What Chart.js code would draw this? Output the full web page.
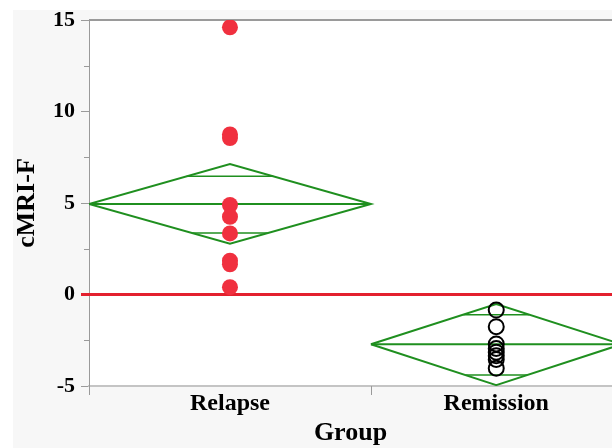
<!DOCTYPE html>
<html>
<head>
<meta charset="utf-8">
<script src="https://cdn.jsdelivr.net/npm/chart.js@4.4.0/dist/chart.umd.min.js"></script>
<style>
  html, body { margin: 0; padding: 0; background: #fff; }
</style>
</head>
<body>
<canvas id="chart" width="612" height="448"></canvas>
<script>
// data
var groups = ['Relapse', 'Remission'];
var groupSizes = [9, 8];
var relapseValues = [14.6, 8.75, 8.55, 4.89, 4.25, 3.34, 1.85, 1.65, 0.4];
var remissionValues = [-0.85, -1.76, -2.7, -2.95, -3.15, -3.35, -3.55, -4.03];
var groupMeans = [4.95, -2.72];
var ciUpper = [7.13, -0.52];
var ciLower = [2.78, -4.95];
var overlapUpper = [6.46, -1.1];
var overlapLower = [3.36, -4.4];
var yTicks = [-5, 0, 5, 10, 15];
var yMinorTicks = [-2.5, 2.5, 7.5, 12.5];

var green = '#1f8f1f';
var serif = "'Liberation Serif', 'Times New Roman', serif";

// group sections on x, width in proportion to group size
var starts = [], ends = [], centers = [];
var pos = 0;
for (var i = 0; i < groups.length; i++) {
  starts.push(pos);
  pos += groupSizes[i] / groupSizes[0];
  ends.push(pos);
  centers.push((starts[i] + ends[i]) / 2);
}

function pts(vals, x) {
  return vals.map(function (v) { return {x: x, y: v}; });
}

var datasets = [
  {
    label: 'Relapse', data: pts(relapseValues, centers[0]),
    backgroundColor: '#f0303f', borderWidth: 0, pointRadius: 8, order: 0
  },
  {
    label: 'Remission', data: pts(remissionValues, centers[1]),
    backgroundColor: 'rgba(0,0,0,0)', borderColor: '#000', borderWidth: 2,
    pointRadius: 7.5, order: 0
  }
];

for (var g = 0; g < groups.length; g++) {
  var s = starts[g], e = ends[g], c = centers[g], m = groupMeans[g];
  datasets.push({
    data: [{x: s, y: m}, {x: c, y: ciUpper[g]}, {x: e, y: m}, {x: c, y: ciLower[g]}, {x: s, y: m}],
    showLine: true, borderColor: green, borderWidth: 2, pointRadius: 0, fill: false, order: 1
  });
  datasets.push({
    data: [{x: s, y: m}, {x: e, y: m}],
    showLine: true, borderColor: green, borderWidth: 2, pointRadius: 0, order: 1
  });
  // overlap marks span the diamond at their height
  var fu = (ciUpper[g] - overlapUpper[g]) / (ciUpper[g] - m);
  var fl = (overlapLower[g] - ciLower[g]) / (m - ciLower[g]);
  var hw = (e - s) / 2;
  datasets.push({
    data: [{x: c - fu * hw, y: overlapUpper[g]}, {x: c + fu * hw, y: overlapUpper[g]}],
    showLine: true, borderColor: green, borderWidth: 1.5, pointRadius: 0, order: 1
  });
  datasets.push({
    data: [{x: c - fl * hw, y: overlapLower[g]}, {x: c + fl * hw, y: overlapLower[g]}],
    showLine: true, borderColor: green, borderWidth: 1.5, pointRadius: 0, order: 1
  });
}

var decor = {
  id: 'decor',
  beforeDraw: function (chart) {
    var ctx = chart.ctx, a = chart.chartArea;
    ctx.save();
    ctx.fillStyle = '#fff';
    ctx.fillRect(0, 0, chart.width, chart.height);
    ctx.fillStyle = '#f7f7f7';
    ctx.fillRect(13, 10, chart.width - 13, chart.height - 10);
    ctx.fillStyle = '#fff';
    ctx.fillRect(a.left, a.top, a.right - a.left, a.bottom - a.top);
    ctx.restore();
  },
  beforeDatasetsDraw: function (chart) {
    var ctx = chart.ctx, a = chart.chartArea;
    var ys = chart.scales.y, xs = chart.scales.x;
    ctx.save();
    // top frame line
    ctx.strokeStyle = '#9a9a9a';
    ctx.lineWidth = 2;
    ctx.beginPath();
    ctx.moveTo(a.left, a.top);
    ctx.lineTo(a.right, a.top);
    ctx.stroke();
    // minor ticks
    ctx.lineWidth = 1;
    yMinorTicks.forEach(function (v) {
      var yy = Math.round(ys.getPixelForValue(v)) + 0.5;
      ctx.beginPath();
      ctx.moveTo(a.left - 5, yy);
      ctx.lineTo(a.left, yy);
      ctx.stroke();
    });
    // y axis runs a little below the plot, separator tick between groups
    ctx.beginPath();
    ctx.moveTo(a.left + 0.5, a.bottom);
    ctx.lineTo(a.left + 0.5, a.bottom + 9);
    var sx = Math.round(xs.getPixelForValue(ends[0])) + 0.5;
    ctx.moveTo(sx, a.bottom);
    ctx.lineTo(sx, a.bottom + 9);
    ctx.stroke();
    // reference line at 0
    var y0 = ys.getPixelForValue(0);
    ctx.strokeStyle = '#e3202e';
    ctx.lineWidth = 3;
    ctx.beginPath();
    ctx.moveTo(a.left - 8, y0);
    ctx.lineTo(a.right, y0);
    ctx.stroke();
    ctx.restore();
  }
};

var chart = new Chart(document.getElementById('chart'), {
  type: 'scatter',
  data: {datasets: datasets},
  options: {
    responsive: false,
    animation: false,
    layout: {autoPadding: false, padding: {top: 20, right: 0, left: 0, bottom: 0}},
    plugins: {legend: {display: false}, tooltip: {enabled: false}},
    scales: {
      x: {
        type: 'linear', min: 0, max: 1.855,
        afterBuildTicks: function (sc) { sc.ticks = centers.map(function (v) { return {value: v}; }); },
        afterFit: function (sc) { sc.height = 62; sc.paddingRight = 0; sc.paddingLeft = 0; },
        ticks: {
          autoSkip: false, maxRotation: 0, padding: 3, color: '#000',
          font: {family: serif, size: 24, weight: 'bold'},
          callback: function (v, i) { return groups[i]; }
        },
        grid: {display: false, drawTicks: false},
        border: {display: true, color: '#c4c4c4', width: 2},
        title: {
          display: true, text: 'Group', color: '#000',
          font: {family: serif, size: 26, weight: 'bold', lineHeight: 1.1},
          padding: {top: 0, bottom: 0}
        }
      },
      y: {
        min: -5, max: 15,
        afterBuildTicks: function (sc) { sc.ticks = yTicks.map(function (v) { return {value: v}; }); },
        afterFit: function (sc) { sc.width = 89; },
        ticks: {
          padding: 6, color: '#000',
          font: {family: serif, size: 22, weight: 'bold'}
        },
        grid: {drawOnChartArea: false, tickLength: 8, color: '#9a9a9a'},
        border: {color: '#9a9a9a', width: 1},
        title: {
          display: true, text: 'cMRI-F', color: '#000',
          font: {family: serif, size: 26, weight: 'bold'},
          padding: {top: 12, bottom: 0}
        }
      }
    }
  },
  plugins: [decor]
});
</script>
</body>
</html>
